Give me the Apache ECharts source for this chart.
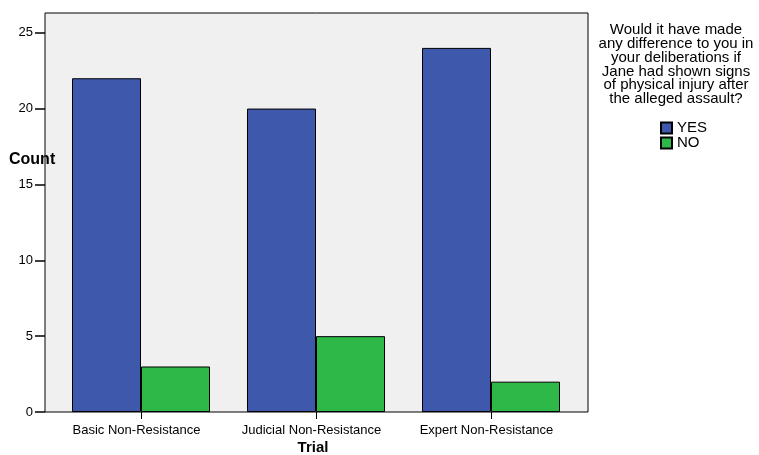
<!DOCTYPE html>
<html>
<head>
<meta charset="utf-8">
<script src="https://cdn.jsdelivr.net/npm/echarts@6/dist/echarts.min.js"></script>
<style>html,body{margin:0;padding:0;background:#fff;}#c{width:759px;height:455px;}</style>
</head>
<body>
<div id="c"></div>
<script>
const categories = ['Basic Non-Resistance', 'Judicial Non-Resistance', 'Expert Non-Resistance'];
const yesValues = [22, 20, 24];
const noValues = [3, 5, 2];
const yTicks = [0, 5, 10, 15, 20, 25];
const legendTitle = 'Would it have made\nany difference to you in\nyour deliberations if\nJane had shown signs\nof physical injury after\nthe alleged assault?';

const FONT = 'Liberation Sans, Arial, sans-serif';
const chart = echarts.init(document.getElementById('c'), null, {renderer: 'canvas'});
chart.setOption({
  animation: false,
  backgroundColor: '#ffffff',
  textStyle: {fontFamily: FONT, color: '#000'},
  grid: [
    {left: 45, top: 13, width: 543, height: 399, show: true, backgroundColor: '#f0f0f0', borderColor: '#000', borderWidth: 1, z: 0},
    {left: 53.5, top: 13, width: 525, height: 399}
  ],
  xAxis: [
    {gridIndex: 0, type: 'value', show: false, min: 0, max: 1},
    {gridIndex: 1, type: 'category', data: categories,
      axisLine: {show: false},
      axisTick: {show: true, alignWithLabel: true, length: 7, lineStyle: {color: '#000', width: 1}},
      axisLabel: {interval: 0, fontSize: 13, color: '#000', margin: 12, fontFamily: FONT, padding: [0, 9, 0, 0]}
    }
  ],
  yAxis: [
    {gridIndex: 0, type: 'value', show: false, min: 0, max: 1},
    {gridIndex: 1, type: 'value', min: 0, max: 26.3, interval: 5, offset: 8.5,
      axisLine: {show: false},
      splitLine: {show: false},
      axisTick: {show: true, length: 10, lineStyle: {color: '#000', width: 1.5}, customValues: yTicks},
      axisLabel: {fontSize: 13, color: '#000', margin: 12, fontFamily: FONT, customValues: yTicks}
    }
  ],
  legend: {
    orient: 'vertical', left: 660, top: 120.5, padding: 0,
    itemWidth: 11, itemHeight: 11, itemGap: 0, icon: 'rect',
    textStyle: {fontSize: 15, lineHeight: 14, color: '#000', fontFamily: FONT},
    data: ['YES', 'NO']
  },
  series: [
    {name: 'YES', type: 'bar', xAxisIndex: 1, yAxisIndex: 1, data: yesValues, barWidth: 69, barGap: '0%',
      itemStyle: {color: '#3e58ac', borderColor: '#000', borderWidth: 1}},
    {name: 'NO', type: 'bar', xAxisIndex: 1, yAxisIndex: 1, data: noValues, barWidth: 69, barGap: '0%',
      itemStyle: {color: '#2eb848', borderColor: '#000', borderWidth: 1}}
  ],
  graphic: [
    {type: 'text', style: {text: 'Count', x: 9, y: 160, textVerticalAlign: 'middle', font: 'bold 16px ' + FONT, fill: '#000'}, z: 100},
    {type: 'text', style: {text: 'Trial', x: 313, y: 448, textAlign: 'center', textVerticalAlign: 'middle', font: 'bold 15px ' + FONT, fill: '#000'}, z: 100},
    {type: 'text', style: {text: legendTitle, x: 676, y: 23.5, textAlign: 'center', textVerticalAlign: 'top', font: '15px ' + FONT, lineHeight: 13.7, fill: '#000'}, z: 100}
  ]
});
</script>
</body>
</html>
